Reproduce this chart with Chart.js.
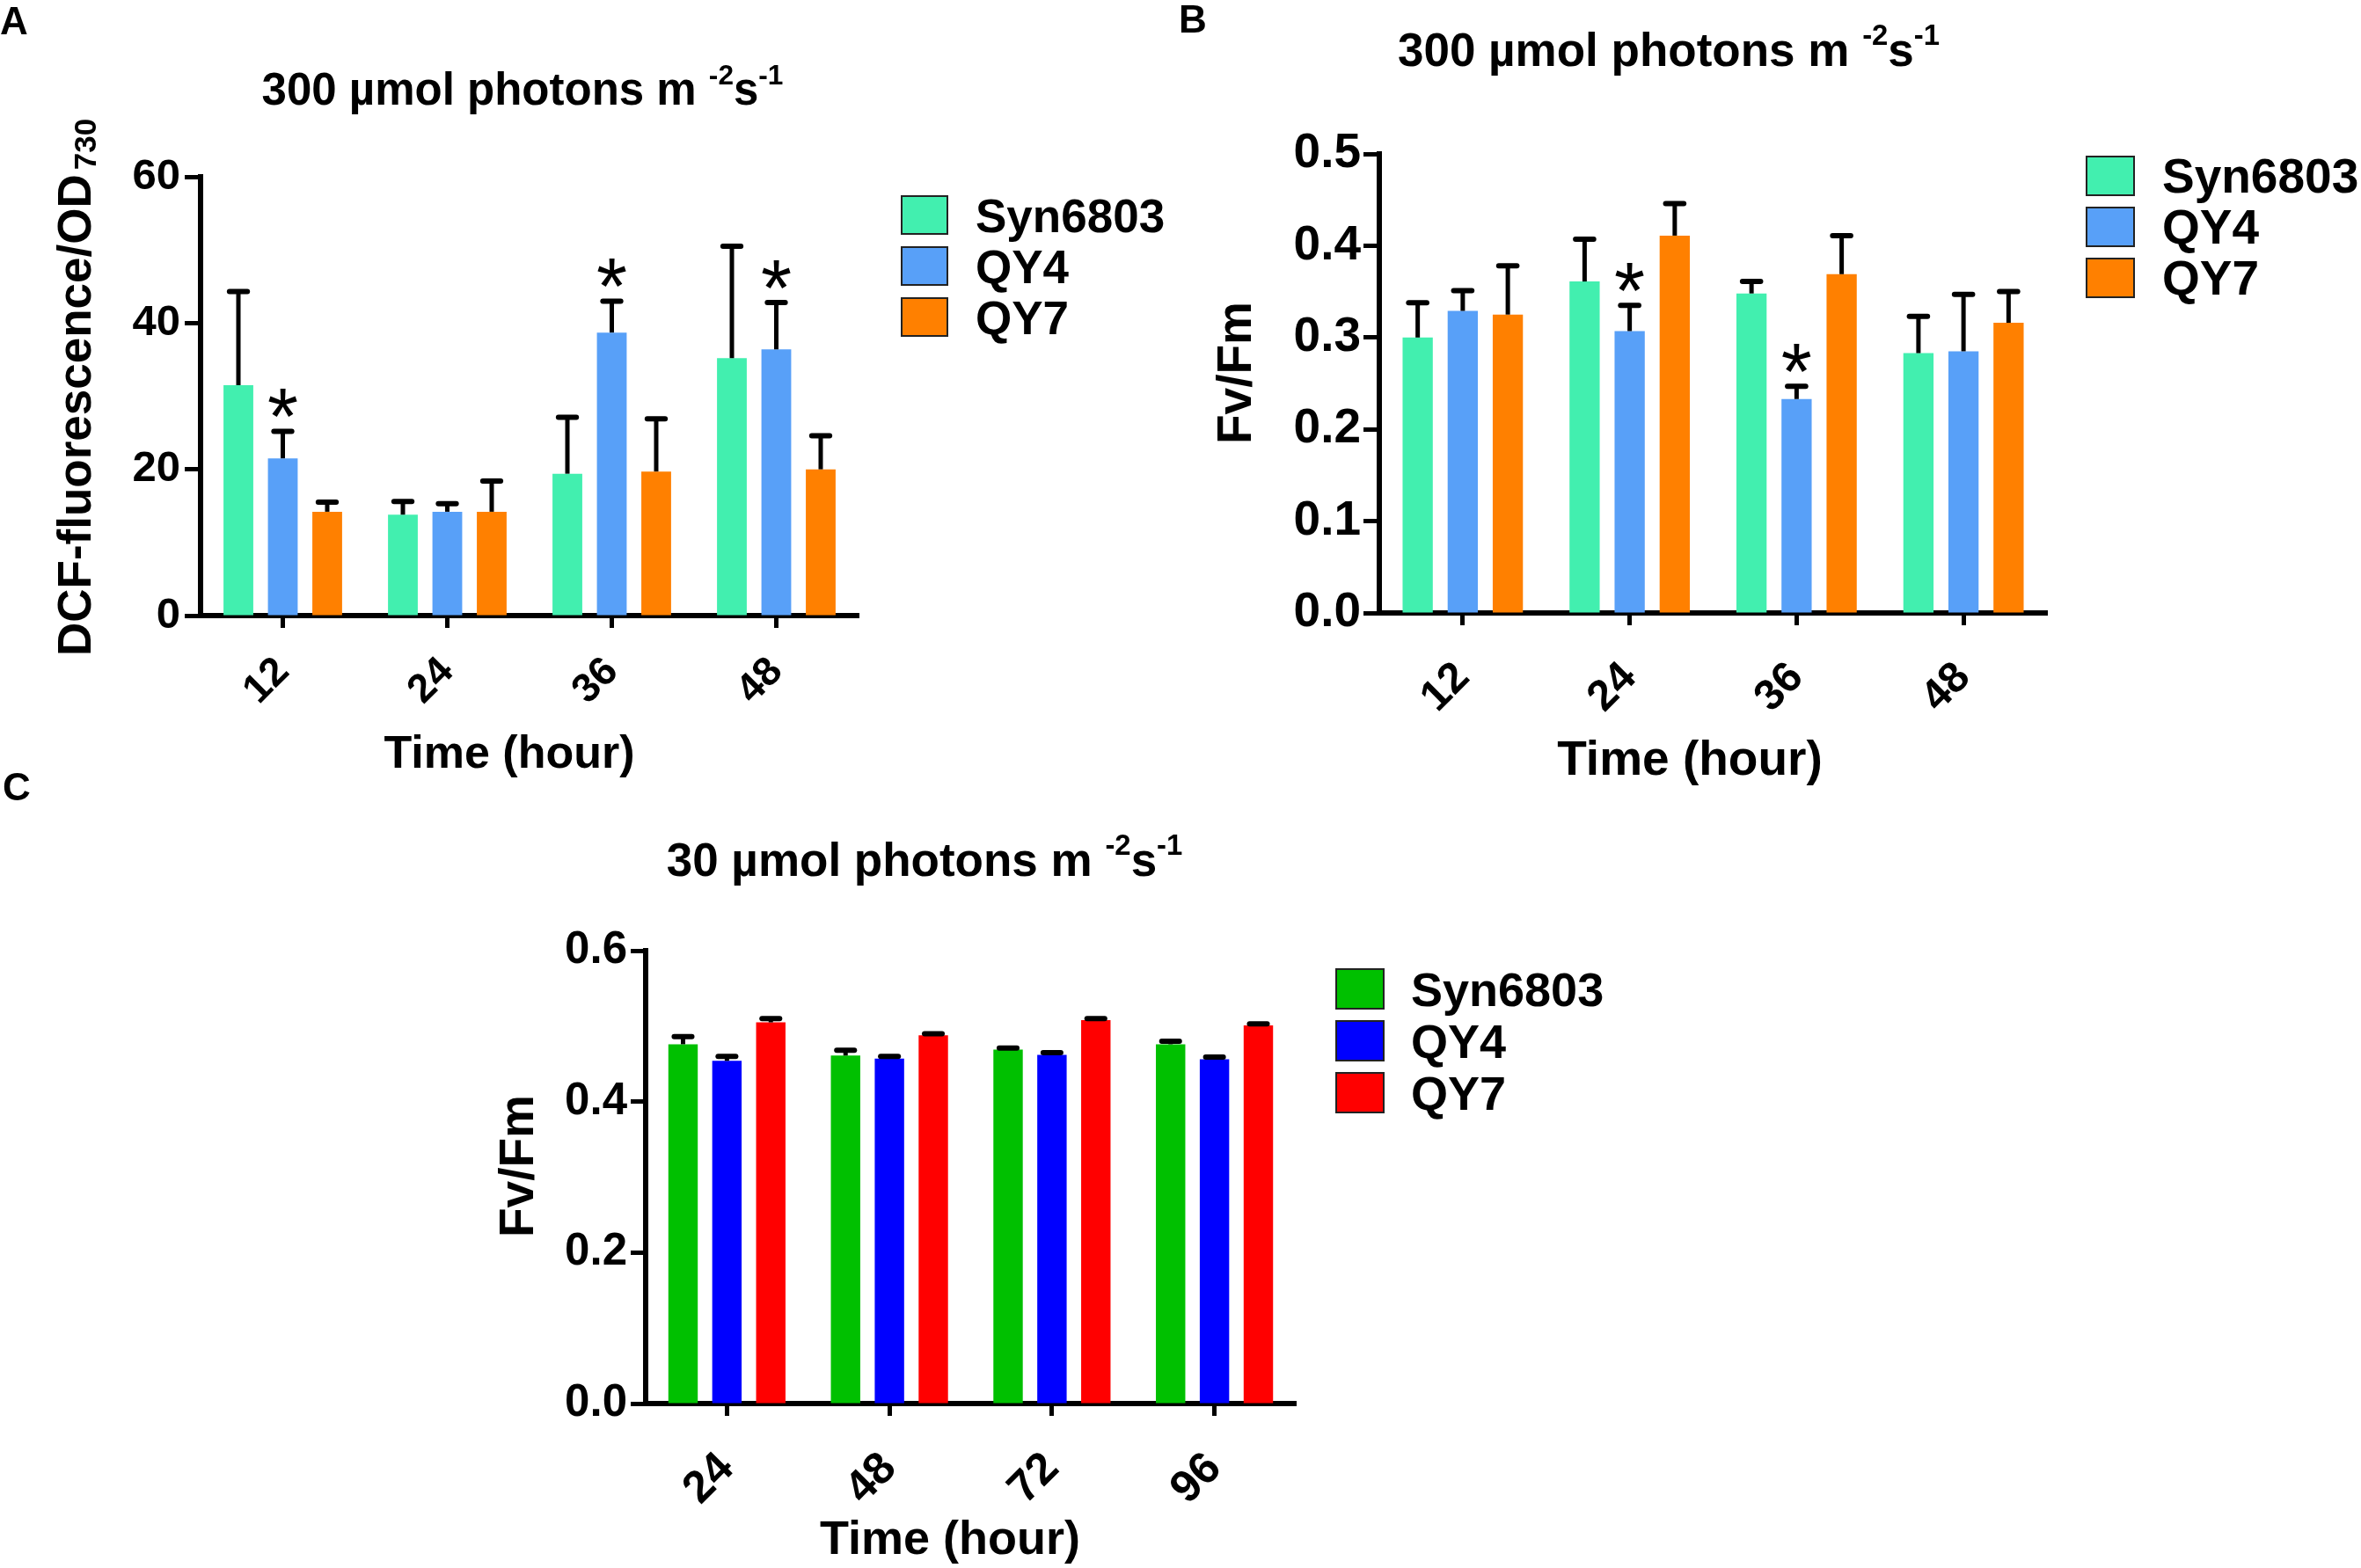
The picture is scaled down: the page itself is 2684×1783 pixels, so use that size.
<!DOCTYPE html>
<html>
<head>
<meta charset="utf-8">
<script src="https://cdn.jsdelivr.net/npm/chart.js@4.4.1/dist/chart.umd.min.js"></script>
<style>
  html, body { margin: 0; padding: 0; background: #fff; }
  #page { position: relative; width: 2684px; height: 1783px; overflow: hidden; background: #fff;
          font-family: "Liberation Sans", Arial, sans-serif; font-weight: bold; color: #000; }
  canvas { position: absolute; }
  .t { position: absolute; white-space: nowrap; line-height: 1; }
  .c { transform: translateX(-50%); }
  .rot { transform-origin: 0 0; transform: rotate(-90deg); }
  .sup { position: relative; font-size: 62%; top: -0.72em; }
  .box { position: absolute; border: 2px solid #222; box-sizing: border-box; }
</style>
</head>
<body>
<div id="page">
  <canvas id="chartA" width="1340" height="900" style="left:0;top:0"></canvas>
  <canvas id="chartB" width="1344" height="900" style="left:1340px;top:0"></canvas>
  <canvas id="chartC" width="1400" height="883" style="left:540px;top:900px"></canvas>
</div>
<script>
// ---- data ----
const hoursAB = ['12', '24', '36', '48'];
const hoursC = ['24', '48', '72', '96'];
const strains = ['Syn6803', 'QY4', 'QY7'];

// A: DCF-fluorescence/OD730, 300 umol photons
const dcfSyn = [31.5, 13.8, 19.4, 35.2];
const dcfQY4 = [21.5, 14.2, 38.7, 36.4];
const dcfQY7 = [14.2, 14.2, 19.7, 20.0];
const dcfSynErr = [12.8, 1.8, 7.7, 15.3];
const dcfQY4Err = [3.7, 1.1, 4.3, 6.4];
const dcfQY7Err = [1.3, 4.2, 7.2, 4.6];
const dcfStarsQY4 = [0, 2, 3];

// B: Fv/Fm, 300 umol photons
const fvHighSyn = [0.300, 0.361, 0.348, 0.283];
const fvHighQY4 = [0.329, 0.307, 0.233, 0.285];
const fvHighQY7 = [0.325, 0.411, 0.369, 0.316];
const fvHighSynErr = [0.038, 0.046, 0.013, 0.040];
const fvHighQY4Err = [0.022, 0.028, 0.014, 0.062];
const fvHighQY7Err = [0.053, 0.035, 0.042, 0.034];
const fvHighStarsQY4 = [1, 2];

// C: Fv/Fm, 30 umol photons
const fvLowSyn = [0.476, 0.461, 0.469, 0.476];
const fvLowQY4 = [0.454, 0.457, 0.462, 0.456];
const fvLowQY7 = [0.505, 0.488, 0.508, 0.501];
const fvLowSynErr = [0.010, 0.007, 0.002, 0.004];
const fvLowQY4Err = [0.006, 0.003, 0.003, 0.003];
const fvLowQY7Err = [0.005, 0.002, 0.002, 0.002];

const colorsHigh = ['#42EFAF', '#58A0F8', '#FF8000'];
const colorsLow = ['#00C000', '#0000FF', '#FF0000'];

const FONT = '"Liberation Sans", Arial, sans-serif';

// error bars (upper only) and significance stars
const errorBars = {
  id: 'errorBars',
  afterDatasetsDraw(chart) {
    const ctx = chart.ctx;
    const y = chart.scales.y;
    chart.data.datasets.forEach((ds, i) => {
      chart.getDatasetMeta(i).data.forEach((bar, j) => {
        const top = y.getPixelForValue(ds.data[j] + ds.err[j]);
        const half = bar.width * 0.3;
        ctx.save();
        ctx.strokeStyle = '#000';
        ctx.lineWidth = 5;
        ctx.beginPath();
        ctx.moveTo(bar.x, bar.y);
        ctx.lineTo(bar.x, top);
        ctx.stroke();
        ctx.lineWidth = 6;
        ctx.lineCap = 'round';
        ctx.beginPath();
        ctx.moveTo(bar.x - half, top);
        ctx.lineTo(bar.x + half, top);
        ctx.stroke();
        if (ds.stars && ds.stars.includes(j)) {
          ctx.fillStyle = '#000';
          ctx.font = '90px ' + FONT;
          ctx.textAlign = 'center';
          ctx.textBaseline = 'alphabetic';
          ctx.fillText('*', bar.x, top + 15);
        }
        ctx.restore();
      });
    });
  }
};

function makeChart(id, labels, values, errs, stars, colors, cfg) {
  const datasets = strains.map((s, i) => ({
    label: s,
    data: values[i],
    err: errs[i],
    stars: stars[i],
    backgroundColor: colors[i],
    borderWidth: 0,
    barPercentage: 0.67,
    categoryPercentage: 0.81
  }));
  return new Chart(document.getElementById(id), {
    type: 'bar',
    data: { labels: labels, datasets: datasets },
    plugins: [errorBars],
    options: {
      responsive: false,
      animation: false,
      events: [],
      layout: { padding: cfg.padding },
      plugins: { legend: { display: false }, tooltip: { enabled: false } },
      scales: {
        x: {
          z: 1,
          afterFit: (s) => { s.height = 120; },
          border: { display: true, color: '#000', width: 6 },
          grid: { drawOnChartArea: false, offset: false, color: '#000', tickLength: 14, tickWidth: 5 },
          ticks: {
            color: '#000', autoSkip: false, maxRotation: 45, minRotation: 45,
            padding: cfg.xPad, font: { family: FONT, size: cfg.xFont, weight: 'bold' }
          }
        },
        y: {
          z: 1,
          min: 0, max: cfg.yMax,
          afterFit: (s) => { s.width = 150; },
          border: { display: true, color: '#000', width: 6 },
          grid: { drawOnChartArea: false, color: '#000', tickLength: cfg.yTick, tickWidth: 5 },
          ticks: {
            color: '#000', stepSize: cfg.yStep, padding: cfg.yPad,
            font: { family: FONT, size: cfg.yFont, weight: 'bold' },
            callback: (v) => Number(v).toFixed(cfg.dec)
          }
        }
      }
    }
  });
}

makeChart('chartA', hoursAB, [dcfSyn, dcfQY4, dcfQY7], [dcfSynErr, dcfQY4Err, dcfQY7Err],
  [null, dcfStarsQY4, null], colorsHigh,
  { padding: { left: 78, top: 201, right: 364, bottom: 80 }, yMax: 60, yStep: 20, dec: 0,
    xFont: 46, xPad: 23, yFont: 49, yPad: 5, yTick: 18 });

makeChart('chartB', hoursAB, [fvHighSyn, fvHighQY4, fvHighQY7], [fvHighSynErr, fvHighQY4Err, fvHighQY7Err],
  [null, fvHighStarsQY4, null], colorsHigh,
  { padding: { left: 78, top: 175, right: 357, bottom: 83 }, yMax: 0.5, yStep: 0.1, dec: 1,
    xFont: 49, xPad: 31, yFont: 55, yPad: 3, yTick: 18 });

makeChart('chartC', hoursC, [fvLowSyn, fvLowQY4, fvLowQY7], [fvLowSynErr, fvLowQY4Err, fvLowQY7Err],
  [null, null, null], colorsLow,
  { padding: { left: 44, top: 181, right: 467, bottom: 67 }, yMax: 0.6, yStep: 0.2, dec: 1,
    xFont: 51, xPad: 30, yFont: 51, yPad: 4, yTick: 17 });

// ---- text: letters, titles, axis titles, legends ----
const page = document.getElementById('page');
function text(html, x, baseline, size, cls) {
  const d = document.createElement('div');
  d.className = 't ' + (cls || '');
  d.style.fontSize = size + 'px';
  d.innerHTML = html;
  if (cls === 'rot') {
    d.style.left = (x - 0.8465 * size) + 'px';
    d.style.top = baseline + 'px';
  } else {
    d.style.left = x + 'px';
    d.style.top = (baseline - 0.8465 * size) + 'px';
  }
  page.appendChild(d);
  return d;
}
const unit = 'm <span class="sup">-2</span>s<span class="sup">-1</span>';

text('A', 0, 39, 44);
text('B', 1340, 37, 44);
text('C', 3, 910, 44);

text('300 µmol photons ' + unit, 594, 119, 51, 'c');
text('300 µmol photons ' + unit, 1897, 75, 53, 'c');
text('30 µmol photons ' + unit, 1051, 996, 53, 'c');

text('Time (hour)', 579, 873, 52, 'c');
text('Time (hour)', 1921, 882, 55, 'c');
text('Time (hour)', 1080, 1767, 54, 'c');

text('DCF-fluorescence/OD<span style="font-size:35px;position:relative;top:6px;margin-left:5px">730</span>', 103, 746, 53, 'rot');
text('Fv/Fm', 1423, 505, 55, 'rot');
text('Fv/Fm', 607, 1407, 55, 'rot');

function legend(left, tops, w, h, textLeft, size, colors) {
  strains.forEach((s, i) => {
    const b = document.createElement('div');
    b.className = 'box';
    b.style.left = left + 'px';
    b.style.top = tops[i] + 'px';
    b.style.width = w + 'px';
    b.style.height = h + 'px';
    b.style.background = colors[i];
    page.appendChild(b);
    text(s, textLeft, tops[i] + h / 2 + 0.358 * size, size);
  });
}
legend(1024, [222, 280, 338], 54, 45, 1109, 53, colorsHigh);
legend(2371, [177, 235, 293], 56, 46, 2458, 55, colorsHigh);
legend(1518, [1101, 1160, 1219], 56, 47, 1604, 54, colorsLow);
</script>
</body>
</html>
